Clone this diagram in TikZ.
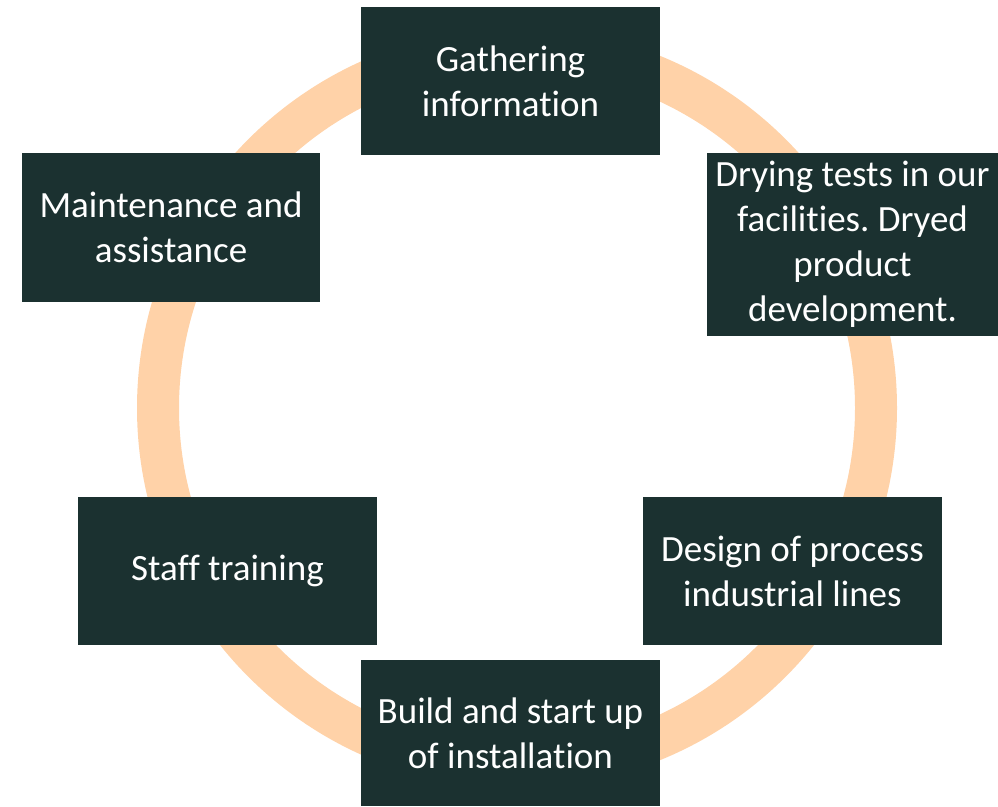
\documentclass[tikz,border=0pt]{standalone}
\usepackage{fontspec}
\setmainfont{Carlito}[Ligatures=NoCommon]
\usetikzlibrary{positioning}
\frenchspacing
\definecolor{darkgreen}{RGB}{27,49,48}
\definecolor{peach}{RGB}{255,210,168}
\tikzstyle{stage} = [rectangle, minimum width=299pt, minimum height=148pt, text centered, align=center, fill=darkgreen, text=white, inner sep=0pt, font=\fontsize{37}{45}\selectfont]
\tikzstyle{ring} = [peach, line width=42pt]

\begin{document}
\begin{tikzpicture}[x=1pt,y=-1pt]
\useasboundingbox (0,0) rectangle (998,806);

\draw[ring] (517,408) circle (359pt);

\node[stage] (gather) at (510.5,81) {Gathering\\information};
\node[stage, minimum width=291pt, minimum height=183pt] (tests) at (852.5,244) {Drying tests in our\\facilities. Dryed\\product\\development.};
\node[stage] (design) at (792.5,571) {Design of process\\industrial lines};
\node[stage, minimum height=146pt] (build) at (510.5,733) {Build and start up\\of installation};
\node[stage] (training) at (227.5,571) {Staff training};
\node[stage, minimum width=298pt, minimum height=149pt] (maint) at (171,227.5) {Maintenance and\\assistance};
\end{tikzpicture}
\end{document}
